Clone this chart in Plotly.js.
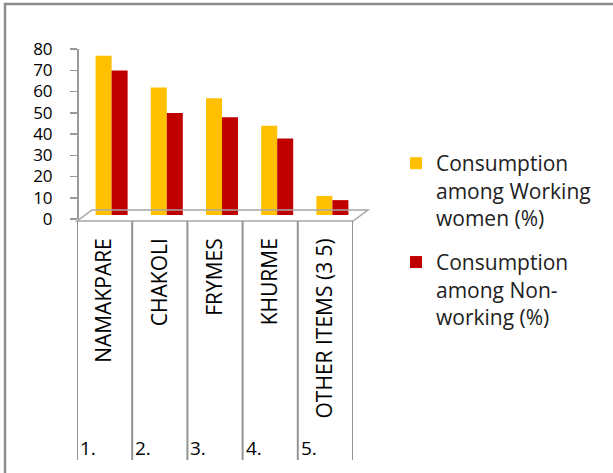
<!DOCTYPE html>
<html>
<head>
<meta charset="utf-8">
<script src="https://cdn.plot.ly/plotly-3.0.1.min.js"></script>
<style>html,body{margin:0;padding:0;background:#fff;}#chart{width:613px;height:473px;}</style>
</head>
<body>
<div id="chart"></div>
<script>
const categories = ["NAMAKPARE", "CHAKOLI", "FRYMES", "KHURME", "OTHER ITEMS (3 5)"];
const serialLabels = ["1.", "2.", "3.", "4.", "5."];
const workingValues = [75, 60, 55, 42, 9];
const nonWorkingValues = [68, 48, 46, 36, 7];
const seriesNames = ["Consumption<br>among Working<br>women (%)", "Consumption<br>among Non-<br>working (%)"];
const yTicks = [0, 10, 20, 30, 40, 50, 60, 70, 80];

const W = 613, H = 473;
const X = px => px / W;
const Y = py => 1 - py / H;
const FONT = "Open Sans, sans-serif";

const traces = [
  {type: "bar", name: seriesNames[0], x: categories, y: workingValues, xaxis: "x", yaxis: "y",
   marker: {color: "#FFC000"}, legendgroup: "a", hoverinfo: "skip"},
  {type: "bar", name: seriesNames[1], x: categories, y: nonWorkingValues, xaxis: "x", yaxis: "y",
   marker: {color: "#C00000"}, legendgroup: "b", hoverinfo: "skip"},
  {type: "scatter", mode: "markers", x: categories.map((c, i) => i), y: workingValues,
   xaxis: "x2", yaxis: "y2", marker: {opacity: 0}, showlegend: false, hoverinfo: "skip"}
];

const shapes = [
  // outer frame
  {type: "rect", xref: "paper", yref: "paper", x0: X(5), y0: Y(4), x1: X(640), y1: Y(500),
   line: {color: "#8c8c8c", width: 2.5}, fillcolor: "rgba(0,0,0,0)"},
  // floor
  {type: "path", xref: "paper", yref: "paper",
   path: `M ${X(77)},${Y(221)} L ${X(92)},${Y(210)} L ${X(368)},${Y(210)} L ${X(353)},${Y(221)} Z`,
   line: {color: "#a6a6a6", width: 1.5}}
];
categories.concat([""]).forEach((c, i) => {
  shapes.push({type: "line", xref: "x2", yref: "paper", x0: i - 0.5, x1: i - 0.5, y0: Y(221), y1: Y(460),
    line: {color: "#939393", width: 2}});
});

const annotations = serialLabels.map((s, i) => ({
  xref: "x2", yref: "paper", x: i - 0.5, y: Y(448), xanchor: "left", yanchor: "middle", xshift: 1,
  text: s, showarrow: false, font: {family: FONT, size: 19, color: "#000"}
}));

const layout = {
  width: W, height: H,
  margin: {l: 0, r: 0, t: 0, b: 0},
  paper_bgcolor: "#fff", plot_bgcolor: "rgba(0,0,0,0)",
  barmode: "group", bargap: 0.42, bargroupgap: 0,
  showlegend: true,
  legend: {x: X(396), y: Y(143), xanchor: "left", yanchor: "top", valign: "top",
    traceorder: "grouped", tracegroupgap: 14, bgcolor: "rgba(0,0,0,0)",
    font: {family: FONT, size: 21, color: "#222"}},
  xaxis: {domain: [X(84), X(360)], type: "category", anchor: "y", showticklabels: false,
    showline: false, showgrid: false, zeroline: false, ticks: ""},
  yaxis: {domain: [Y(215), Y(45)], range: [0, 80], anchor: "x", showticklabels: false,
    showline: false, showgrid: false, zeroline: false, ticks: ""},
  xaxis2: {domain: [X(77), X(353)], range: [-0.5, 4.5], anchor: "free", position: Y(221),
    tickvals: categories.map((c, i) => i), ticktext: categories, tickangle: -90,
    ticks: "", showline: false, showgrid: false, zeroline: false, ticklabelstandoff: 12,
    tickfont: {family: FONT, size: 21, color: "#000"}},
  yaxis2: {domain: [Y(219), Y(49)], range: [0, 80], anchor: "free", position: X(77),
    tickvals: yTicks, ticks: "outside", ticklen: 7, tickcolor: "#999", tickwidth: 1.5,
    showline: true, linecolor: "#999", linewidth: 1.5, showgrid: false, zeroline: false,
    ticklabelstandoff: 14, tickfont: {family: FONT, size: 17, color: "#000"}},
  shapes: shapes,
  annotations: annotations
};

Plotly.newPlot("chart", traces, layout, {staticPlot: true, displayModeBar: false});
</script>
</body>
</html>
